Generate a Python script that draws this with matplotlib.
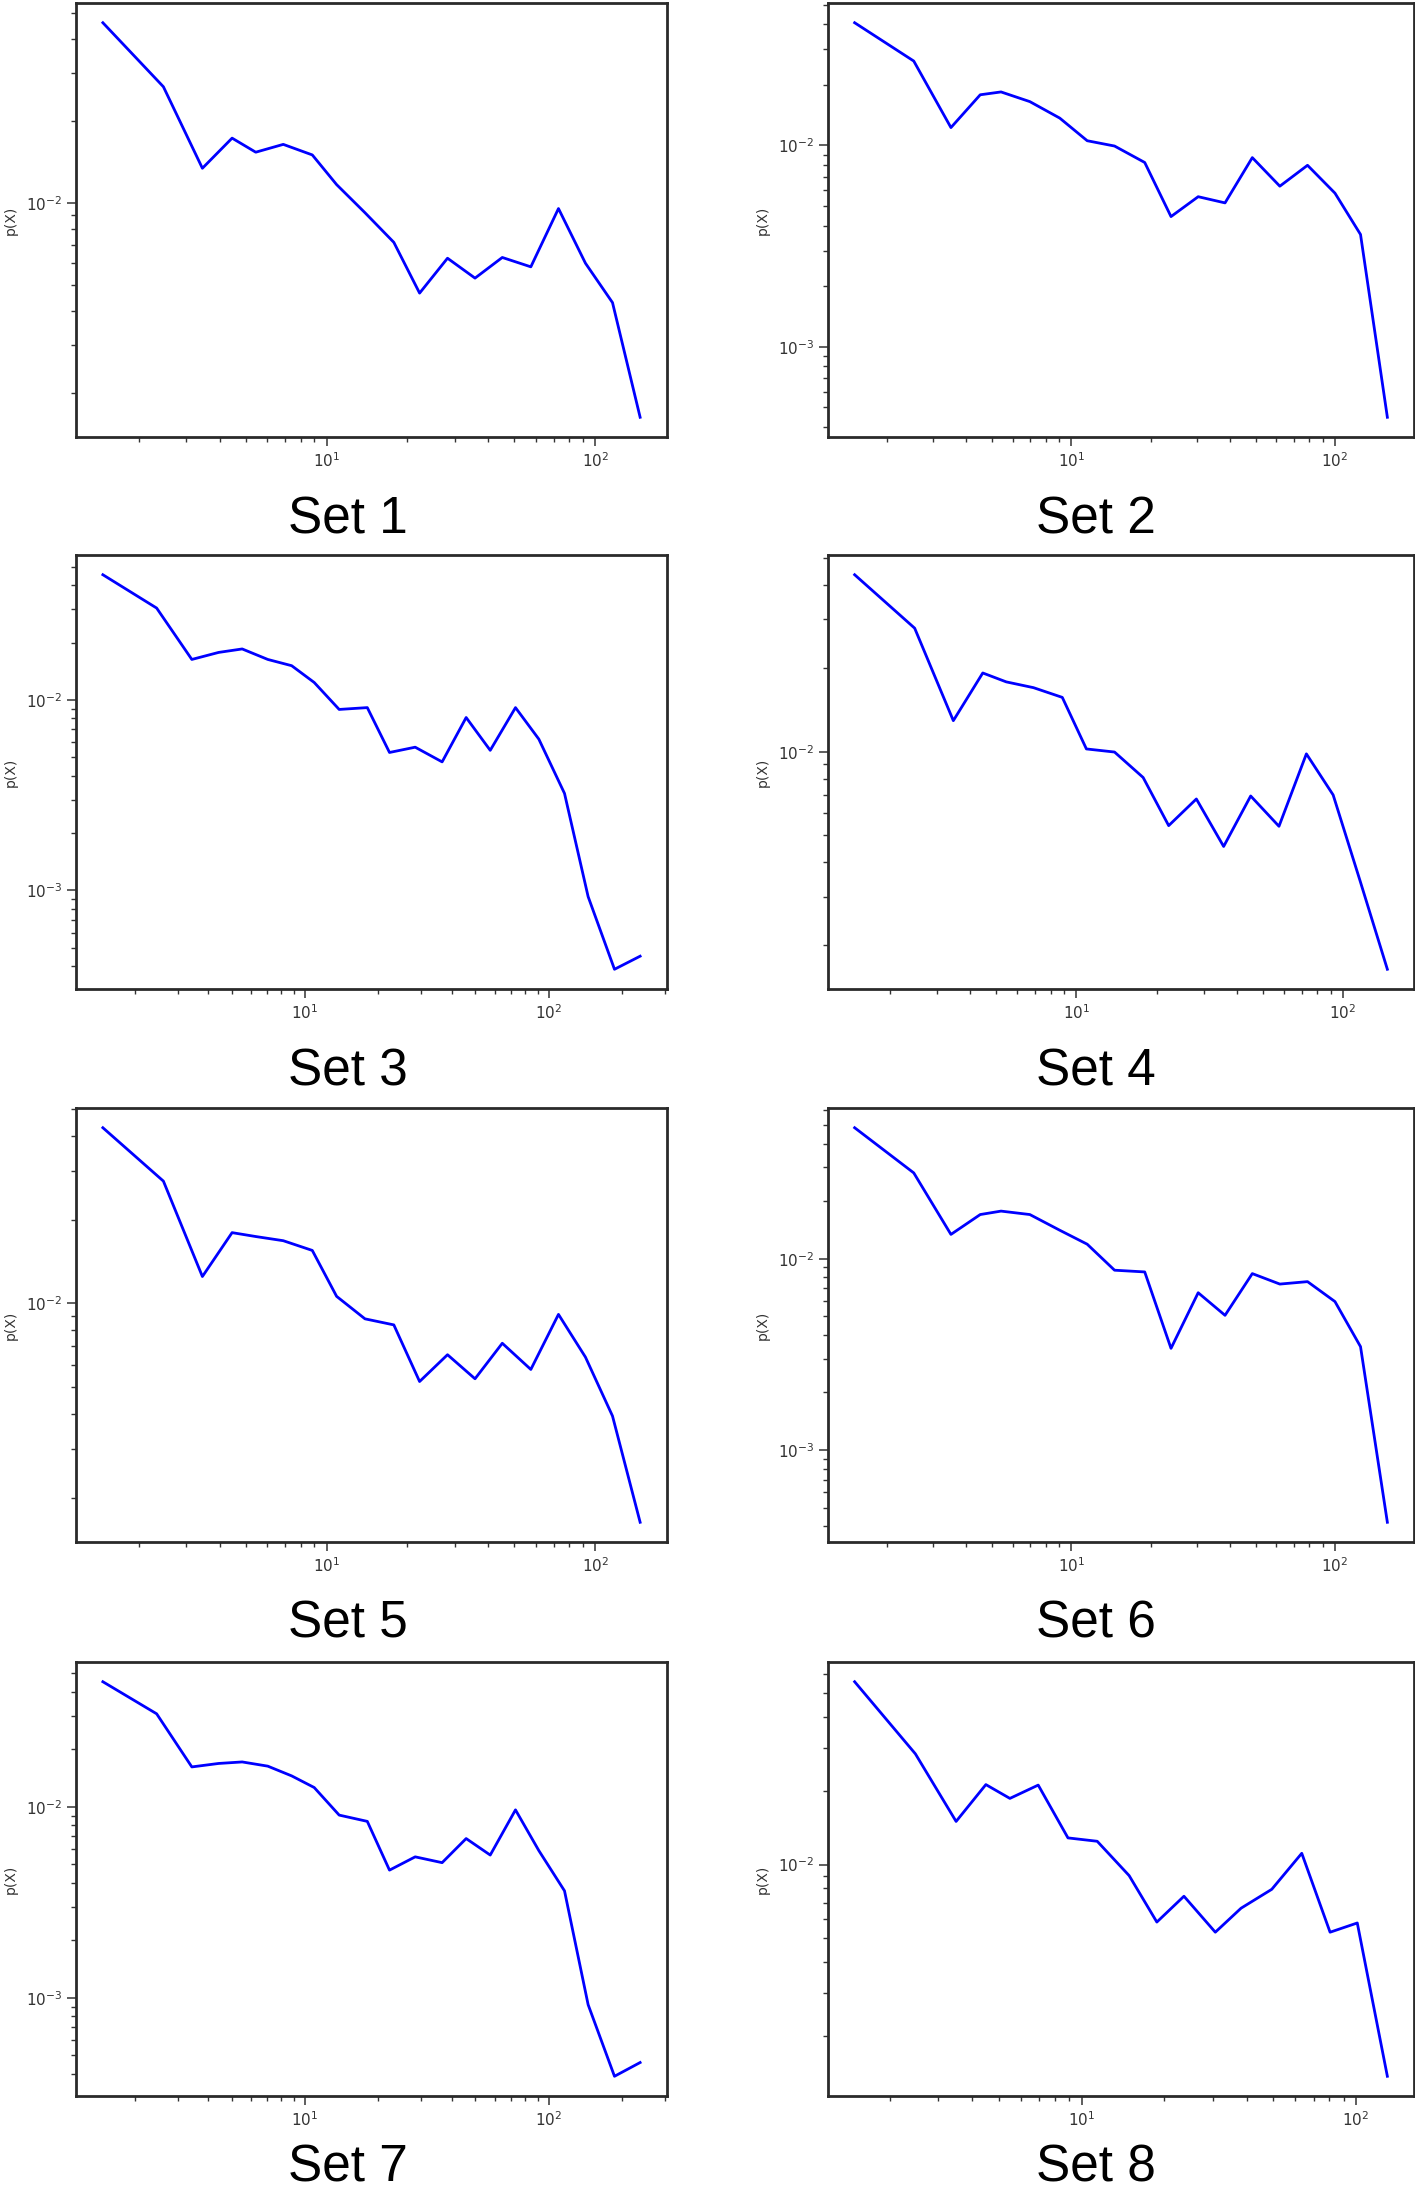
import numpy as np
import matplotlib
matplotlib.use('Agg')
import matplotlib.pyplot as plt
from matplotlib.ticker import NullFormatter

# x positions (bin centres)
x_a = [1.47, 2.47, 3.45, 4.45, 5.45, 6.9, 8.85, 10.9, 13.9, 17.8, 22.2, 28.2,
       35.7, 45.1, 57.6, 73.0, 92.0, 116, 147]
x_b = [1.51, 2.53, 3.50, 4.52, 5.42, 6.97, 9.05, 11.5, 14.6, 19.0, 23.9, 30.3,
       38.3, 48.6, 61.8, 78.7, 100, 125, 158]
x_c = [1.48, 2.46, 3.43, 4.42, 5.52, 7.03, 8.81, 10.9, 13.8, 18.0, 22.2, 28.3,
       36.5, 45.8, 57.5, 73.0, 91.0, 116, 145, 186, 237]
x_d = [1.49, 2.48, 3.49, 4.48, 5.48, 6.95, 8.92, 11.4, 14.9, 18.8, 23.6, 30.7,
       38.1, 49.3, 63.4, 80.4, 101, 130]

# p(X) for each set
p_set1 = [0.0459, 0.0267, 0.0134, 0.01729, 0.01535, 0.0164, 0.0150, 0.01167,
          0.0092, 0.00716, 0.00466, 0.00626, 0.00529, 0.0063, 0.00582, 0.00953,
          0.0060, 0.0043, 0.00163]
p_set2 = [0.0406, 0.0262, 0.01225, 0.01782, 0.01841, 0.01648, 0.01365, 0.01054,
          0.00992, 0.00822, 0.00443, 0.00556, 0.00518, 0.00869, 0.00627, 0.00796,
          0.00579, 0.00361, 0.000447]
p_set3 = [0.0455, 0.0304, 0.01633, 0.01778, 0.01854, 0.01633, 0.01514, 0.01236,
          0.00892, 0.00912, 0.0053, 0.00565, 0.00473, 0.00809, 0.00544, 0.00912,
          0.00623, 0.00323, 0.000927, 0.000385, 0.000451]
p_set4 = [0.0435, 0.0279, 0.01294, 0.01923, 0.01786, 0.01702, 0.0157, 0.01023,
          0.00997, 0.00807, 0.00541, 0.00675, 0.00455, 0.00692, 0.00538, 0.00982,
          0.00698, 0.00343, 0.00164]
p_set5 = [0.0428, 0.0275, 0.01248, 0.01795, 0.01738, 0.01679, 0.01549, 0.01059,
          0.00879, 0.00836, 0.00523, 0.00653, 0.00535, 0.00718, 0.00578, 0.00912,
          0.0064, 0.00393, 0.00163]
p_set6 = [0.0484, 0.0281, 0.0134, 0.01702, 0.01774, 0.01702, 0.01409, 0.01191,
          0.00871, 0.00853, 0.0034, 0.00664, 0.00506, 0.00836, 0.00737, 0.00759,
          0.00597, 0.00347, 0.000419]
p_set7 = [0.0452, 0.0307, 0.01618, 0.01687, 0.01718, 0.01633, 0.01452, 0.01262,
          0.00905, 0.00839, 0.00466, 0.00547, 0.0051, 0.00682, 0.00559, 0.00964,
          0.0059, 0.00363, 0.00092, 0.000388, 0.000458]
p_set8 = [0.0557, 0.0283, 0.015, 0.0212, 0.01862, 0.0211, 0.01285, 0.01245,
          0.00902, 0.00583, 0.00743, 0.0053, 0.00664, 0.00793, 0.01112, 0.0053,
          0.00578, 0.00137]

titles = ['Set 1', 'Set 2', 'Set 3', 'Set 4', 'Set 5', 'Set 6', 'Set 7', 'Set 8']
sets = [(x_a, p_set1), (x_b, p_set2), (x_c, p_set3), (x_a, p_set4),
        (x_a, p_set5), (x_b, p_set6), (x_c, p_set7), (x_d, p_set8)]

W, H = 1415, 2192
fig = plt.figure(figsize=(W / 100, H / 100), dpi=100)

col_left = [76, 828]
col_width = [591, 586]
row_top = [3, 555, 1108, 1662]
ax_h = 434
caption_x = [348, 1096]
caption_base = [533, 1085, 1638, 2181]

for i, (xs, ps) in enumerate(sets):
    r, c = divmod(i, 2)
    ax = fig.add_axes([col_left[c] / W, 1 - (row_top[r] + ax_h) / H,
                       col_width[c] / W, ax_h / H])
    ax.plot(xs, ps, color='b', lw=2)
    ax.set_xscale('log')
    ax.set_yscale('log')
    ax.xaxis.set_minor_formatter(NullFormatter())
    ax.yaxis.set_minor_formatter(NullFormatter())
    ax.tick_params(which='major', length=6.5, width=1.1, labelsize=11,
                   color='#333333', labelcolor='#333333')
    ax.tick_params(which='minor', length=3.6, width=1.0, color='#333333')
    for s in ax.spines.values():
        s.set_linewidth(2.0)
        s.set_color('#2a2a2a')
    ax.set_ylabel('p(X)', fontsize=10, color='#333333')
    ax.yaxis.set_label_coords(-58 / col_width[c], 0.5)
    fig.text(caption_x[c] / W, 1 - caption_base[r] / H, titles[i],
             ha='center', va='baseline', fontsize=37, family='Liberation Sans')

fig.savefig('out.png', dpi=100)
